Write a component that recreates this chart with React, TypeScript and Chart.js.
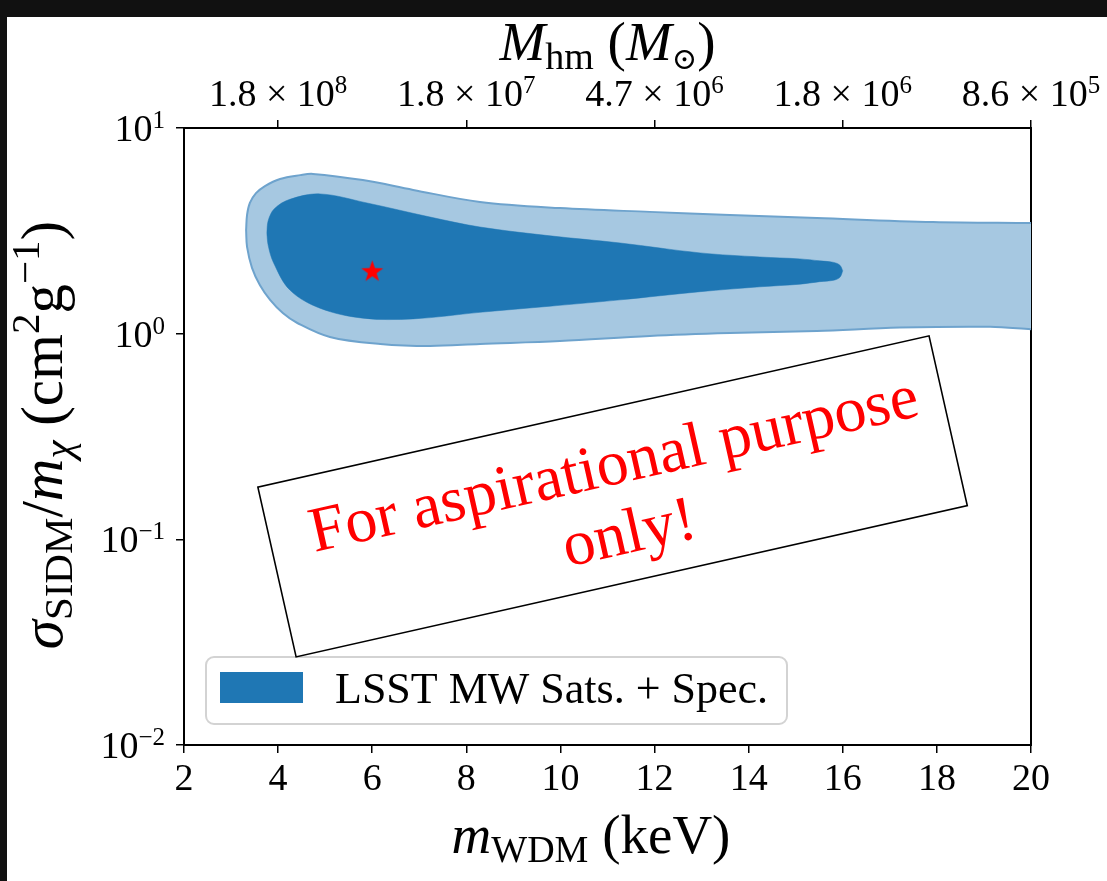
import React, { useEffect, useRef } from 'react';
import { Chart, registerables } from 'chart.js';
Chart.register(...registerables);

// canvas placement on the page (dark frame around)
const OX = 7;
const OY = 17;
const CW = 1107 - OX;
const CH = 881 - OY;

// ---- data ----
const xTicks = [2, 4, 6, 8, 10, 12, 14, 16, 18, 20];
const topTickPos = [4, 8, 12, 16, 20];
const topTickMant = ['1.8', '1.8', '4.7', '1.8', '8.6'];
const topTickExp = ['8', '7', '6', '6', '5'];
const yTicks = [0.01, 0.1, 1, 10];
const yTickExp = ['\u22122', '\u22121', '0', '1'];

const outerTopX = [3.32, 3.34, 3.40, 3.53, 3.72, 4.04, 4.47, 4.74, 5.80, 6.87, 8.29, 9.99, 11.9, 13.6, 15.45, 17.92, 20];
const outerTopY = [3.19, 3.78, 4.32, 4.82, 5.22, 5.65, 5.90, 5.98, 5.58, 5.00, 4.37, 4.08, 3.91, 3.78, 3.65, 3.49, 3.45];
const outerBotX = [3.32, 3.34, 3.445, 3.615, 3.83, 4.10, 4.40, 5.10, 6.17, 7.23, 8.29, 9.99, 11.9, 13.6, 15.45, 17.21, 19.13, 20];
const outerBotY = [3.19, 2.64, 2.09, 1.72, 1.46, 1.26, 1.13, 0.964, 0.891, 0.871, 0.891, 0.921, 0.975, 1.007, 1.03, 1.07, 1.08, 1.05];

const innerTopX = [3.76, 3.79, 3.92, 4.25, 4.89, 5.89, 7.23, 8.29, 9.78, 11.27, 12.97, 14.24, 15.09, 15.51, 15.81, 15.94, 16.0];
const innerTopY = [3.09, 3.55, 4.05, 4.50, 4.78, 4.32, 3.69, 3.30, 2.99, 2.76, 2.47, 2.36, 2.31, 2.26, 2.22, 2.15, 2.02];
const innerBotX = [3.76, 3.79, 3.90, 4.25, 4.89, 5.80, 6.87, 8.29, 9.78, 11.27, 12.97, 14.24, 15.09, 15.51, 15.81, 15.94, 16.0];
const innerBotY = [3.09, 2.68, 2.22, 1.63, 1.33, 1.19, 1.18, 1.27, 1.36, 1.46, 1.60, 1.69, 1.74, 1.79, 1.82, 1.88, 2.02];

const starX = [6.0];
const starY = [2.0];

const legendLabel = 'LSST MW Sats. + Spec.';
const noteLines = ['For aspirational purpose', 'only!'];

const pts = (xs: number[], ys: number[]) => xs.map((x, i) => ({ x, y: ys[i] }));

const FAM = '"Liberation Serif", "DejaVu Serif", serif';
type Piece = { t: string; size: number; italic?: boolean; dy?: number };
const fontOf = (p: Piece) => `${p.italic ? 'italic ' : ''}${p.size}px ${FAM}`;

function piecesWidth(ctx: CanvasRenderingContext2D, pieces: Piece[]) {
  let w = 0;
  for (const p of pieces) {
    ctx.font = fontOf(p);
    w += ctx.measureText(p.t).width;
  }
  return w;
}
function drawPieces(ctx: CanvasRenderingContext2D, pieces: Piece[], x: number, y: number, align: 'left' | 'center' | 'right') {
  const w = piecesWidth(ctx, pieces);
  let cx = align === 'center' ? x - w / 2 : align === 'right' ? x - w : x;
  ctx.textBaseline = 'alphabetic';
  ctx.textAlign = 'left';
  for (const p of pieces) {
    ctx.font = fontOf(p);
    ctx.fillText(p.t, cx, y + (p.dy || 0));
    cx += ctx.measureText(p.t).width;
  }
}

function makeStar(r: number, color: string) {
  const c = document.createElement('canvas');
  const s = Math.ceil(r * 2 + 4);
  c.width = s;
  c.height = s;
  const g = c.getContext('2d')!;
  g.translate(s / 2, s / 2);
  g.beginPath();
  for (let i = 0; i < 10; i++) {
    const rr = i % 2 === 0 ? r : r * 0.4;
    const a = -Math.PI / 2 + (i * Math.PI) / 5;
    g.lineTo(rr * Math.cos(a), rr * Math.sin(a));
  }
  g.closePath();
  g.fillStyle = color;
  g.fill();
  return c;
}

const TICK = 38;
const EXP = 25;
const TITLE = 55;
const SUB = 38;
const YT = 59;
const YS = 41;

const decorPlugin = {
  id: 'decor',
  afterDraw(chart: any) {
    const ctx: CanvasRenderingContext2D = chart.ctx;
    const a = chart.chartArea;
    const xs = chart.scales.x;
    const ys = chart.scales.y;
    ctx.save();
    ctx.fillStyle = '#000';

    // y tick labels
    yTicks.forEach((v, i) => {
      const py = ys.getPixelForValue(v);
      const xr = a.left - 19;
      drawPieces(ctx, [
        { t: '10', size: TICK, dy: 13 },
        { t: yTickExp[i], size: EXP, dy: 0 },
      ], xr, py, 'right');
    });

    // top tick labels
    const topCenterY = 93 - OY;
    topTickPos.forEach((v, i) => {
      const px = xs.getPixelForValue(v);
      drawPieces(ctx, [
        { t: topTickMant[i] + ' \u00d7 10', size: TICK, dy: 13 },
        { t: topTickExp[i], size: EXP, dy: 0 },
      ], px, topCenterY, 'center');
    });

    // titles
    const cxm = (a.left + a.right) / 2;
    drawPieces(ctx, [
      { t: 'M', size: TITLE, italic: true },
      { t: 'hm', size: SUB, dy: 9 },
      { t: ' (', size: TITLE },
      { t: 'M', size: TITLE, italic: true },
      { t: '\u2299', size: SUB * 0.8, dy: 9 },
      { t: ')', size: TITLE },
    ], cxm, 60 - OY, 'center');

    drawPieces(ctx, [
      { t: 'm', size: TITLE, italic: true },
      { t: 'WDM', size: SUB, dy: 9 },
      { t: ' (keV)', size: TITLE },
    ], 591 - OX, 853 - OY, 'center');

    ctx.save();
    ctx.translate(62 - OX, 435 - OY);
    ctx.rotate(-Math.PI / 2);
    drawPieces(ctx, [
      { t: '\u03c3', size: YT, italic: true },
      { t: 'SIDM', size: YS, dy: 10 },
      { t: '/', size: YT },
      { t: 'm', size: YT, italic: true },
      { t: '\u03c7', size: YS, italic: true, dy: 10 },
      { t: ' (cm', size: YT },
      { t: '2', size: YS, dy: -23 },
      { t: 'g', size: YT },
      { t: '\u22121', size: YS, dy: -23 },
      { t: ')', size: YT },
    ], 0, 0, 'center');
    ctx.restore();

    // legend
    const lx = 206 - OX, ly = 657 - OY, lw = 581, lh = 67;
    ctx.beginPath();
    (ctx as any).roundRect(lx, ly, lw, lh, 8);
    ctx.fillStyle = 'rgba(255,255,255,0.85)';
    ctx.fill();
    ctx.strokeStyle = '#d3d3d3';
    ctx.lineWidth = 2;
    ctx.stroke();
    ctx.fillStyle = '#1f77b4';
    ctx.fillRect(220 - OX, 672 - OY, 83, 31);
    ctx.fillStyle = '#000';
    ctx.font = `44px ${FAM}`;
    ctx.textBaseline = 'alphabetic';
    ctx.textAlign = 'left';
    ctx.fillText(legendLabel, 335 - OX, 703 - OY);

    // annotation box
    const bx = a.left + 0.506 * (a.right - a.left);
    const by = a.top + 0.597 * (a.bottom - a.top);
    const ang = (-12.7 * Math.PI) / 180;
    ctx.save();
    ctx.translate(bx, by);
    ctx.rotate(ang);
    ctx.fillStyle = '#fff';
    ctx.fillRect(-344, -87, 688, 174);
    ctx.strokeStyle = '#000';
    ctx.lineWidth = 1.6;
    ctx.strokeRect(-344, -87, 688, 174);
    ctx.fillStyle = '#ff0000';
    ctx.font = `64px ${FAM}`;
    ctx.textAlign = 'center';
    ctx.textBaseline = 'middle';
    ctx.fillText(noteLines[0], 8, 7 - 35);
    ctx.fillText(noteLines[1], 8, 7 + 35);
    ctx.restore();

    ctx.restore();
  },
};

export default function App() {
  const ref = useRef<HTMLCanvasElement>(null);
  useEffect(() => {
    document.body.style.margin = '0';
    document.body.style.background = '#111111';
    document.documentElement.style.background = '#111111';
    const canvas = ref.current!;
    const star = makeStar(11.5, '#ff0000');
    const lineBase = { pointRadius: 0, pointHoverRadius: 0, tension: 0.35, xAxisID: 'x', yAxisID: 'y' };
    const chart = new Chart(canvas, {
      type: 'line',
      data: {
        datasets: [
          { ...lineBase, data: pts(outerTopX, outerTopY), borderColor: '#6ea3cd', borderWidth: 2, fill: false, order: 3 },
          { ...lineBase, data: pts(outerBotX, outerBotY), borderColor: '#6ea3cd', borderWidth: 2, fill: 0, backgroundColor: '#a6c8e1', order: 3 },
          { ...lineBase, data: pts(innerTopX, innerTopY), borderColor: '#1f77b4', borderWidth: 0.5, fill: false, order: 2 },
          { ...lineBase, data: pts(innerBotX, innerBotY), borderColor: '#1f77b4', borderWidth: 0.5, fill: 2, backgroundColor: '#1f77b4', order: 2 },
          { data: pts(starX, starY), showLine: false, pointStyle: star as any, pointRadius: 11, xAxisID: 'x', yAxisID: 'y', order: 0 },
        ] as any,
      },
      options: {
        animation: false,
        responsive: false,
        devicePixelRatio: 1,
        layout: { padding: { top: 0, left: 0, right: 1107 - 1031, bottom: 0 } },
        plugins: { legend: { display: false }, tooltip: { enabled: false } },
        events: [],
        scales: {
          x: {
            type: 'linear', position: 'bottom', min: 2, max: 20,
            afterBuildTicks: (s: any) => { s.ticks = xTicks.map((v) => ({ value: v })); },
            afterFit: (s: any) => { s.height = 881 - 745; },
            grid: { drawOnChartArea: false, drawTicks: true, tickLength: 8, color: '#000', lineWidth: 1.5 },
            border: { display: true, color: '#000', width: 2 },
            ticks: { font: { family: FAM, size: TICK }, color: '#000', padding: 4, maxRotation: 0, autoSkip: false, callback: (v: any) => String(v) },
          },
          x2: {
            type: 'linear', position: 'top', min: 2, max: 20,
            afterBuildTicks: (s: any) => { s.ticks = topTickPos.map((v) => ({ value: v })); },
            afterFit: (s: any) => { s.height = 128 - OY; },
            grid: { drawOnChartArea: false, drawTicks: true, tickLength: 8, color: '#000', lineWidth: 1.5 },
            border: { display: true, color: '#000', width: 2 },
            ticks: { display: false },
          },
          y: {
            type: 'logarithmic', position: 'left', min: 0.01, max: 10,
            afterBuildTicks: (s: any) => { s.ticks = yTicks.map((v) => ({ value: v })); },
            afterFit: (s: any) => { s.width = 184 - OX; },
            grid: { drawOnChartArea: false, drawTicks: true, tickLength: 8, color: '#000', lineWidth: 1.5 },
            border: { display: true, color: '#000', width: 2 },
            ticks: { display: false },
          },
          y2: {
            type: 'linear', position: 'right', min: 0, max: 1,
            afterFit: (s: any) => { s.width = 0; },
            grid: { display: false, drawTicks: false },
            border: { display: true, color: '#000', width: 2 },
            ticks: { display: false },
          },
        } as any,
      },
      plugins: [decorPlugin],
    });
    return () => chart.destroy();
  }, []);
  return (
    <canvas
      ref={ref}
      width={CW}
      height={CH}
      style={{ position: 'absolute', left: OX, top: OY, width: CW, height: CH, background: '#fff', display: 'block' }}
    />
  );
}
